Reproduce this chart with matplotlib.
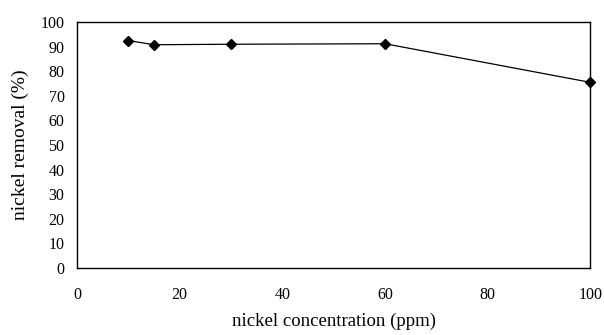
import matplotlib
matplotlib.use("Agg")
import matplotlib.pyplot as plt

# data
concentration = [10, 15, 30, 60, 100]
removal = [92.5, 90.8, 91.0, 91.2, 75.5]
x_ticks = [0, 20, 40, 60, 80, 100]
y_ticks = [0, 10, 20, 30, 40, 50, 60, 70, 80, 90, 100]

plt.rcParams['font.family'] = ['Liberation Serif', 'DejaVu Serif']

fig = plt.figure(figsize=(6.04, 3.35), dpi=100)
ax = fig.add_axes([0.1275, 0.2, 0.85, 0.734])

ax.plot(concentration, removal, color='black', linewidth=0.9,
        marker='D', markersize=5, markerfacecolor='black', markeredgecolor='black',
        clip_on=False)

ax.set_xlim(0, 100)
ax.set_ylim(0, 100)
ax.set_xticks(x_ticks)
ax.set_yticks(y_ticks)
ax.tick_params(length=0, labelsize=11.5)
ax.tick_params(axis='y', pad=9)
ax.tick_params(axis='x', pad=14)

for s in ax.spines.values():
    s.set_linewidth(1.0)

ax.set_xlabel('nickel concentration (ppm)', fontsize=13.5, labelpad=7)
ax.set_ylabel('nickel removal (%)', fontsize=14, labelpad=8)

fig.savefig('out.png', dpi=100)
